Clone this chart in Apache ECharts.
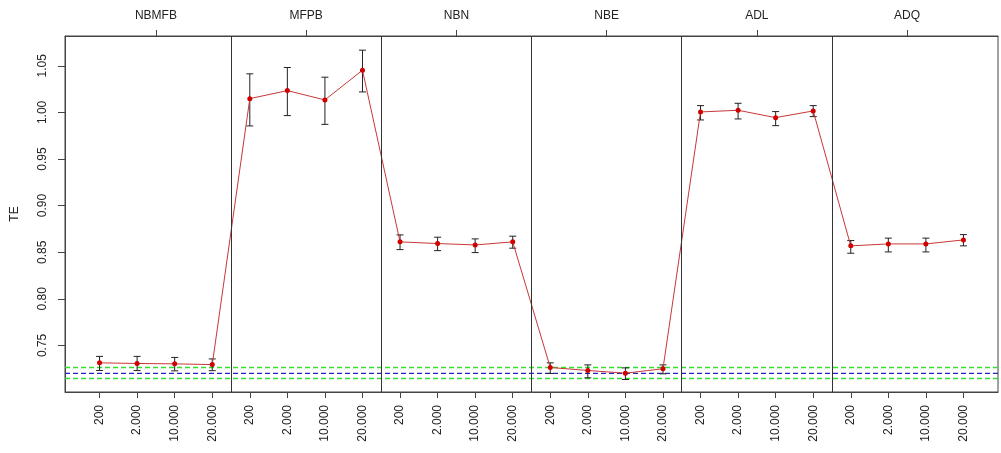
<!DOCTYPE html>
<html>
<head>
<meta charset="utf-8">
<script src="https://cdn.jsdelivr.net/npm/echarts@6/dist/echarts.min.js"></script>
<style>
  html, body { margin: 0; padding: 0; background: #fff; }
  #chart { width: 1001px; height: 453px; }
</style>
</head>
<body>
<div id="chart"></div>
<script>
// Panels (estimators) and the sample sizes inside each panel
const panels = ['NBMFB', 'MFPB', 'NBN', 'NBE', 'ADL', 'ADQ'];
const sampleSizes = ['200', '2.000', '10.000', '20.000'];

// Mean TE per panel and sample size, with lower / upper interval ends
const teMean = [
  0.7313, 0.7306, 0.7302, 0.7294,
  1.0148, 1.0234, 1.0134, 1.0453,
  0.8611, 0.8593, 0.8578, 0.8611,
  0.7263, 0.7231, 0.7202, 0.7249,
  1.0005, 1.0023, 0.9944, 1.0016,
  0.8568, 0.8589, 0.8589, 0.8632
];
const teLower = [
  0.7231, 0.7230, 0.7227, 0.7229,
  0.9855, 0.9966, 0.9872, 1.0220,
  0.8528, 0.8517, 0.8496, 0.8543,
  0.7199, 0.7152, 0.7134, 0.7195,
  0.9919, 0.9930, 0.9858, 0.9955,
  0.8489, 0.8503, 0.8503, 0.8568
];
const teUpper = [
  0.7382, 0.7382, 0.7371, 0.7355,
  1.0414, 1.0482, 1.0378, 1.0668,
  0.8686, 0.8661, 0.8643, 0.8672,
  0.7313, 0.7291, 0.7259, 0.7291,
  1.0073, 1.0098, 1.0009, 1.0073,
  0.8625, 0.8651, 0.8651, 0.8689
];

// Reference TE and its band
const trueTE = 0.7199;
const bandLow = 0.7145;
const bandHigh = 0.7263;

// Y tick labels
const yTicks = [0.75, 0.80, 0.85, 0.90, 0.95, 1.00, 1.05];

const X_MIN = 0.08, X_MAX = 24.92;
const nPer = sampleSizes.length;
const xPos = teMean.map((_, i) => i + 1);
const linePts = teMean.map((v, i) => [xPos[i], v]);
const barPts = teMean.map((_, i) => [xPos[i], teLower[i], teUpper[i]]);
const panelCenters = panels.map((_, p) => p * nPer + (nPer + 1) / 2);
const panelBreaks = panels.slice(1).map((_, p) => (p + 1) * nPer + 0.5);

const FONT = '"Liberation Sans", Arial, sans-serif';
const AXIS_COL = '#444';
const TXT_COL = '#222';

// a dashed horizontal line across the whole plot
function hLine(value, color) {
  return {
    type: 'line', silent: true, symbol: 'none', z: 2,
    data: [[X_MIN, value], [X_MAX, value]],
    lineStyle: { color: color, type: [5, 3], width: 1.3 }
  };
}

const chart = echarts.init(document.getElementById('chart'), null, { renderer: 'canvas' });

chart.setOption({
  animation: false,
  backgroundColor: '#fff',
  grid: {
    left: 65, right: 3, top: 36, bottom: 61,
    show: true, borderColor: AXIS_COL, borderWidth: 1, backgroundColor: 'transparent'
  },
  xAxis: [
    {
      type: 'value', position: 'bottom',
      min: X_MIN, max: X_MAX,
      splitLine: { show: false },
      axisLine: { show: true, lineStyle: { color: AXIS_COL } },
      axisTick: { show: true, length: 6, lineStyle: { color: AXIS_COL }, customValues: xPos },
      axisLabel: {
        customValues: xPos, rotate: 90, margin: 13,
        fontFamily: FONT, fontSize: 12, color: TXT_COL,
        formatter: v => sampleSizes[(Math.round(v) - 1) % nPer]
      }
    },
    {
      type: 'value', position: 'top',
      min: X_MIN, max: X_MAX,
      splitLine: { show: false },
      axisLine: { show: true, lineStyle: { color: AXIS_COL } },
      axisTick: { show: true, length: 6, lineStyle: { color: AXIS_COL }, customValues: panelCenters },
      axisLabel: {
        customValues: panelCenters, margin: 14,
        fontFamily: FONT, fontSize: 12, color: TXT_COL,
        formatter: v => panels[Math.round((v - (nPer + 1) / 2) / nPer)]
      }
    }
  ],
  yAxis: {
    type: 'value',
    min: 0.70, max: 1.082,
    name: 'TE', nameLocation: 'middle', nameGap: 44, nameRotate: 90,
    nameTextStyle: { fontFamily: FONT, fontSize: 12, color: TXT_COL },
    splitLine: { show: false },
    axisLine: { show: true, lineStyle: { color: AXIS_COL } },
    axisTick: { show: true, length: 7, lineStyle: { color: AXIS_COL }, customValues: yTicks },
    axisLabel: {
      customValues: yTicks, rotate: 90, margin: 16,
      fontFamily: FONT, fontSize: 12, color: TXT_COL,
      formatter: v => v.toFixed(2)
    }
  },
  series: [
    hLine(bandHigh, '#33dd33'),
    hLine(bandLow, '#33dd33'),
    hLine(trueTE, '#2626b8'),
    {
      // panel separators
      type: 'line', data: [], silent: true,
      markLine: {
        silent: true, symbol: 'none', label: { show: false }, precision: 6,
        lineStyle: { color: '#333', type: 'solid', width: 1 },
        data: panelBreaks.map(x => ({ xAxis: x }))
      }
    },
    {
      // interval bars
      type: 'custom',
      data: barPts,
      encode: { x: 0, y: [1, 2] },
      z: 3,
      renderItem: (params, api) => {
        const x = api.value(0);
        const lo = api.coord([x, api.value(1)]);
        const hi = api.coord([x, api.value(2)]);
        const half = 3.5;
        const style = { stroke: '#222', lineWidth: 1 };
        return {
          type: 'group',
          children: [
            { type: 'line', shape: { x1: lo[0], y1: lo[1], x2: hi[0], y2: hi[1] }, style },
            { type: 'line', shape: { x1: lo[0] - half, y1: lo[1], x2: lo[0] + half, y2: lo[1] }, style },
            { type: 'line', shape: { x1: hi[0] - half, y1: hi[1], x2: hi[0] + half, y2: hi[1] }, style }
          ]
        };
      }
    },
    {
      // mean TE line with points
      type: 'line',
      data: linePts,
      z: 4,
      symbol: 'circle', symbolSize: 5,
      lineStyle: { color: '#c83838', width: 1 },
      itemStyle: { color: '#d00000', borderWidth: 0 }
    }
  ]
});
</script>
</body>
</html>
